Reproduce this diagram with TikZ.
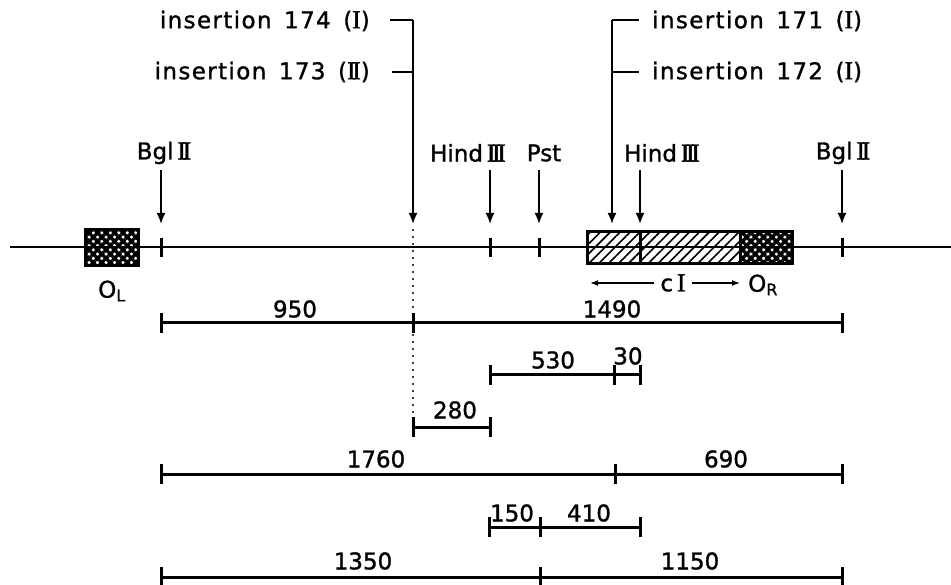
\documentclass[tikz,border=0pt]{standalone}
\usepackage{fontspec}
\setmainfont{DejaVu Sans}[FakeBold=1.2]
\newfontfamily\romfont{Liberation Serif}[Scale=1.12,FakeBold=1.5]
\newfontfamily\spaced{DejaVu Sans}[LetterSpace=6,FakeBold=1.2]
\usetikzlibrary{arrows.meta,patterns.meta}
\newcommand{\RnI}{{\romfont I}}
\newcommand{\RnII}{{\romfont I\kern-0.13em I}}
\newcommand{\RnIII}{{\romfont I\kern-0.13em I\kern-0.13em I}}
\newcommand{\sbtick}[2]{\draw[bar] ({#1},{#2-10}) -- ({#1},{#2+10});}
\begin{document}
\begin{tikzpicture}[x=1pt,y=-1pt,
  every node/.style={font=\fontsize{23}{26}\selectfont, inner sep=0pt},
  mainline/.style={line width=2.4pt},
  bar/.style={line width=3pt},
  site/.style={line width=1.8pt, -{Latex[length=11pt,width=9pt]}},
  brk/.style={line width=1.8pt},
  small arrow/.style={line width=1.5pt, -{Latex[length=8pt,width=6pt]}},
  crossbox/.style={draw, line width=3pt, pattern={Hatch[angle=45,distance=6pt,line width=3.3pt]}},
  linebox/.style={draw, line width=3pt, pattern={Lines[angle=45,distance=7pt,line width=1.6pt]}},
]
\useasboundingbox (0,0) rectangle (951,585);

% main line
\coordinate (mL) at (10,247);
\coordinate (mR) at (951,247);
\draw[mainline] (mL) -- (mR);

% boxes
\node[crossbox, minimum width=53pt, minimum height=36pt] (OLbox) at (111.5,248) {};
\node[linebox, minimum width=53pt, minimum height=32pt] (ciA) at (613.5,248) {};
\node[linebox, minimum width=100pt, minimum height=32pt] (ciB) at (690,248) {};
\node[crossbox, minimum width=52pt, minimum height=32pt] (ORbox) at (766,248) {};

% ticks on main line
\draw[bar] (161,238) -- (161,257);
\draw[bar] (490,238) -- (490,257);
\draw[bar] (539,238) -- (539,257);
\draw[bar] (842,238) -- (842,257);

% labels below line
\node (OLlab) at (112,291) {O\textsubscript{L}};
\node (cIlab) at (673,283) {c\,\RnI};
\coordinate (cIleft) at (590,283);
\coordinate (cIright) at (740,283);
\draw[small arrow] ([xshift=-6pt]cIlab.west) -- (cIleft);
\draw[small arrow] ([xshift=6pt]cIlab.east) -- (cIright);
\node[anchor=west] (ORlab) at (748,285) {O\textsubscript{R}};

% restriction sites
\node (bglL) at (164,153) {Bgl\,\RnII};
\coordinate (bglLa) at (161,170);
\coordinate (bglLt) at (161,224);
\draw[site] (bglLa) -- (bglLt);

\node (hindL) at (468,153) {Hind\,\RnIII};
\coordinate (hindLa) at (490,170);
\coordinate (hindLt) at (490,224);
\draw[site] (hindLa) -- (hindLt);

\node (pst) at (544,153) {Pst};
\coordinate (psta) at (539,170);
\coordinate (pstt) at (539,224);
\draw[site] (psta) -- (pstt);

\node (hindR) at (662,153) {Hind\,\RnIII};
\coordinate (hindRa) at (640,170);
\coordinate (hindRt) at (640,224);
\draw[site] (hindRa) -- (hindRt);

\node (bglR) at (843,153) {Bgl\,\RnII};
\coordinate (bglRa) at (842,170);
\coordinate (bglRt) at (842,224);
\draw[site] (bglRa) -- (bglRt);

% insertions left
\node[anchor=east, font=\fontsize{23}{26}\spaced] (ins174) at (370,21) {insertion\ \,174\ \,(\RnI)};
\node[anchor=east, font=\fontsize{23}{26}\spaced] (ins173) at (370,72) {insertion\ \,173\ \,(\RnII)};
\coordinate (insLtop) at (413,20);
\coordinate (insLmid) at (413,72);
\coordinate (insLtip) at (413,224);
\draw[brk] ([xshift=20pt]ins174.east |- insLtop) -- (insLtop);
\draw[brk] ([xshift=22pt]ins173.east |- insLmid) -- (insLmid);
\draw[site] (insLtop) -- (insLtip);

% insertions right
\node[anchor=west, font=\fontsize{23}{26}\spaced] (ins171) at (652,21) {insertion\ \,171\ \,(\RnI)};
\node[anchor=west, font=\fontsize{23}{26}\spaced] (ins172) at (652,72) {insertion\ \,172\ \,(\RnI)};
\coordinate (insRtop) at (612,20);
\coordinate (insRmid) at (612,72);
\coordinate (insRtip) at (612,224);
\draw[brk] ([xshift=-13pt]ins171.west |- insRtop) -- (insRtop);
\draw[brk] ([xshift=-13pt]ins172.west |- insRmid) -- (insRmid);
\draw[site] (insRtop) -- (insRtip);

% dotted line
\coordinate (dotA) at (413,230);
\coordinate (dotB) at (413,427);
\draw[line width=2.4pt, line cap=round, dash pattern=on 0pt off 7pt] (dotA) -- (dotB);

% scale bars
% row 1
\draw[bar] (161,323) -- (842,323);
\sbtick{161}{323}\sbtick{413}{323}\sbtick{842}{323}
\node (n950) at (295,309) {950};
\node (n1490) at (612,309) {1490};
% row 2
\draw[bar] (490,375) -- (640,375);
\sbtick{490}{375}\sbtick{614}{375}\sbtick{640}{375}
\node (n530) at (553,360) {530};
\node (n30) at (628,356) {30};
% row 3
\draw[bar] (413,427) -- (490,427);
\sbtick{413}{427}\sbtick{490}{427}
\node (n280) at (455,410) {280};
% row 4
\draw[bar] (161,474) -- (842,474);
\sbtick{161}{474}\sbtick{615}{474}\sbtick{842}{474}
\node (n1760) at (376,459) {1760};
\node (n690) at (726,459) {690};
% row 5
\draw[bar] (489,527) -- (640,527);
\sbtick{489}{527}\sbtick{540}{527}\sbtick{640}{527}
\node (n150) at (512,513) {150};
\node (n410) at (589,513) {410};
% row 6
\draw[bar] (161,577) -- (842,577);
\sbtick{161}{577}\sbtick{540}{577}\sbtick{842}{577}
\node (n1350) at (363,561) {1350};
\node (n1150) at (690,561) {1150};
\end{tikzpicture}
\end{document}
